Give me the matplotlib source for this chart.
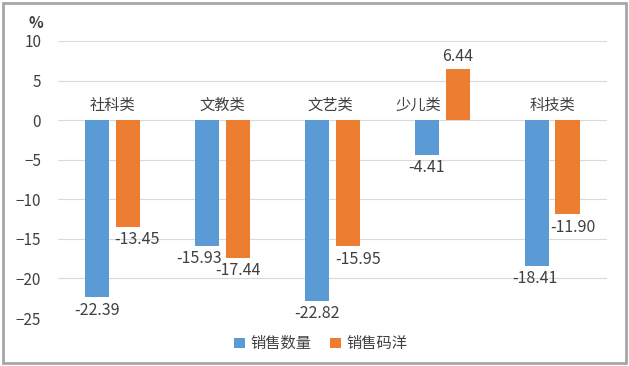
import matplotlib
matplotlib.use('Agg')
import matplotlib.pyplot as plt
import numpy as np
from matplotlib.patches import Rectangle

plt.rcParams['font.family'] = ['Noto Sans CJK SC', 'DejaVu Sans']

categories = ['社科类', '文教类', '文艺类', '少儿类', '科技类']
qty = [-22.39, -15.93, -22.82, -4.41, -18.41]
amount = [-13.45, -17.44, -15.95, 6.44, -11.90]
series_names = ['销售数量', '销售码洋']

# label nudges (pixels) so the labels don't collide, like the original
qty_dx = [0, -8, 0, 0, -2]
amount_dx = [9, 0, 10, 0, 5]
cat_dx = [0, 0, -2, -24, 0]

blue = '#5B9BD5'
orange = '#ED7D31'
txt = '#404040'

fig = plt.figure(figsize=(6.29, 3.66), dpi=100)
ax = fig.add_axes([0.092, 0.131, 0.873, 0.757])

x = np.arange(len(categories))
w = 0.22
gap = 0.03
b1 = ax.bar(x - w/2 - gap, qty, w, color=blue, label=series_names[0])
b2 = ax.bar(x + w/2 + gap, amount, w, color=orange, label=series_names[1])

for bars, vals, dxs in ((b1, qty, qty_dx), (b2, amount, amount_dx)):
    for r, v, dx in zip(bars, vals, dxs):
        cx = r.get_x() + r.get_width()/2
        dy = 3 if v >= 0 else -3
        ax.annotate('%.2f' % v, (cx, v), xytext=(dx*0.72, dy), textcoords='offset points',
                    ha='center', va='bottom' if v >= 0 else 'top', fontsize=11.5, color=txt)

for i, c in enumerate(categories):
    ax.annotate(c, (x[i], 0.8), xytext=(cat_dx[i]*0.72, 0), textcoords='offset points',
                ha='center', va='bottom', fontsize=11, color=txt)

ax.set_xlim(-0.5, len(categories) - 0.5)
ax.set_ylim(-25, 10)
ax.set_yticks(range(-25, 11, 5))
ax.set_xticks([])
ax.grid(axis='y', color='#D9D9D9', linewidth=0.8)
ax.set_axisbelow(True)
for s in ax.spines.values():
    s.set_visible(False)
ax.tick_params(axis='y', length=0, labelsize=11, labelcolor=txt, pad=12)
ax.text(-0.04, 1.035, '%', transform=ax.transAxes, ha='center', va='bottom',
        fontsize=11, color=txt, fontweight='bold')

fig.legend(loc='lower center', bbox_to_anchor=(0.51, 0.0), ncol=2, frameon=False,
           fontsize=11, labelcolor=txt, handlelength=0.7, handleheight=0.7,
           columnspacing=1.2, handletextpad=0.4)

fig.patches.append(Rectangle((0.005, 0.008), 0.99, 0.985, transform=fig.transFigure,
                             fill=False, edgecolor='#A6A6A6', linewidth=2))

fig.savefig('out.png', dpi=100)
